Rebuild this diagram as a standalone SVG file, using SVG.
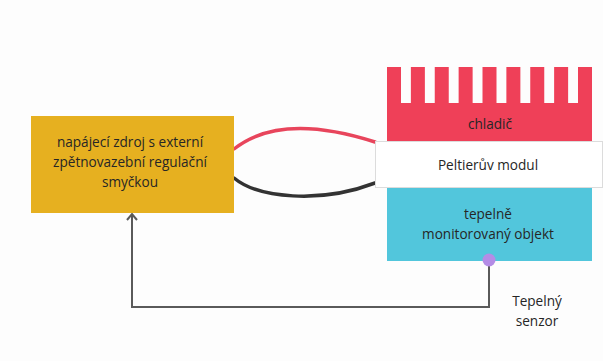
<svg xmlns="http://www.w3.org/2000/svg" width="603" height="361" viewBox="0 0 603 361">
  <style>
    .lbl { font-family: "Open Sans", "Noto Sans", sans-serif; font-size: 13.6px; fill: #262626; text-anchor: middle; }
    .wire { fill: none; stroke-width: 3.5; stroke-linecap: round; }
    .fb { fill: none; stroke: #5a5a5a; stroke-width: 2; }
  </style>
  <defs>
    <marker id="chev" viewBox="0 0 12 12" refX="10" refY="6" markerWidth="12" markerHeight="12" markerUnits="userSpaceOnUse" orient="auto">
      <path d="M4,1 L10,6 L4,11" fill="none" stroke="#5a5a5a" stroke-width="2"/>
    </marker>
  </defs>
  <rect width="603" height="361" fill="#fdfdfd"/>

  <g id="connectors">
    <path class="wire" stroke="#e8455c" d="M234,149 C258,130 300,118 375,142"/>
    <path class="wire" stroke="#333333" d="M234,178 C258,198 320,204 375,183"/>
    <path class="fb" d="M489,260 L489,307 L132,307 L132,214" marker-end="url(#chev)"/>
  </g>

  <g id="power-supply">
    <rect x="31" y="116" width="203" height="97" fill="#e6b020"/>
    <text class="lbl" x="130" y="147">napájecí zdroj s externí</text>
    <text class="lbl" x="130" y="167">zpětnovazební regulační</text>
    <text class="lbl" x="130" y="187">smyčkou</text>
  </g>

  <g id="heatsink">
    <path fill="#ef4058" d="M387,67 h14 v36 h9.875 v-36 h14 v36 h9.875 v-36 h14 v36 h9.875 v-36 h14 v36 h9.875 v-36 h14 v36 h9.875 v-36 h14 v36 h9.875 v-36 h14 v36 h9.875 v-36 h14 v36 h9.875 v-36 h14 V142 H387 Z"/>
    <text class="lbl" x="490" y="129">chladič</text>
  </g>

  <g id="peltier">
    <rect x="375.5" y="141.5" width="227" height="46" fill="#ffffff" stroke="#dcdcdc"/>
    <text class="lbl" x="488" y="170">Peltierův modul</text>
  </g>

  <g id="object">
    <rect x="387" y="188" width="205" height="73" fill="#52c6dc"/>
    <text class="lbl" x="488" y="219">tepelně</text>
    <text class="lbl" x="488" y="239">monitorovaný objekt</text>
  </g>

  <g id="sensor">
    <circle cx="489" cy="260" r="6.5" fill="#b48ce6"/>
    <text class="lbl" x="537" y="306">Tepelný</text>
    <text class="lbl" x="537" y="326">senzor</text>
  </g>
</svg>
